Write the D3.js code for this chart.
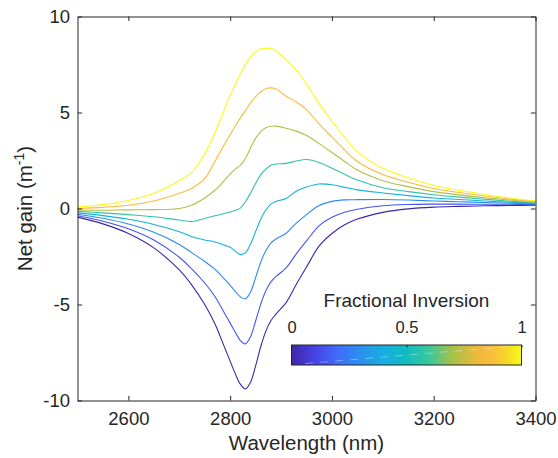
<!DOCTYPE html>
<html>
<head>
<meta charset="utf-8">
<script src="https://cdn.jsdelivr.net/npm/d3@7"></script>
<style>
  html, body { margin: 0; padding: 0; background: #fff; }
  svg { display: block; }
  text { font-family: "Liberation Sans", Arial, Helvetica, sans-serif; fill: #262626; }
</style>
</head>
<body>
<svg id="chart" width="558" height="458"></svg>
<script>
// ---------------- data ----------------
const wavelength = [2500, 2550, 2600, 2650, 2700, 2725, 2750, 2770, 2790, 2800, 2810, 2820, 2830, 2840, 2850, 2860, 2870, 2880, 2890, 2910, 2930, 2950, 2975, 3000, 3025, 3050, 3100, 3150, 3200, 3250, 3300, 3350, 3400];

const fractions = [0, 0.143, 0.286, 0.429, 0.571, 0.714, 0.857, 1];

const gainF0 = [-0.45, -0.8, -1.3, -2.05, -3.2, -4.0, -5.0, -6.0, -7.3, -7.95, -8.6, -9.15, -9.4, -9.05, -8.2, -7.2, -6.4, -5.85, -5.5, -4.9, -3.95, -3.05, -1.95, -1.3, -0.85, -0.55, -0.2, -0.02, 0.07, 0.11, 0.14, 0.16, 0.17];
const gainF1 = [-0.38, -0.66, -1.05, -1.64, -2.54, -3.16, -3.88, -4.58, -5.51, -5.97, -6.45, -6.88, -7.05, -6.68, -5.86, -4.99, -4.29, -3.82, -3.54, -3.09, -2.36, -1.69, -0.89, -0.46, -0.2, -0.04, 0.14, 0.21, 0.23, 0.23, 0.22, 0.22, 0.2];
const gainF2 = [-0.30, -0.51, -0.81, -1.24, -1.87, -2.31, -2.76, -3.16, -3.71, -4.0, -4.32, -4.6, -4.7, -4.35, -3.6, -2.8, -2.2, -1.8, -1.59, -1.29, -0.76, -0.32, 0.16, 0.37, 0.45, 0.46, 0.47, 0.44, 0.39, 0.35, 0.31, 0.27, 0.24];
const gainF3 = [-0.23, -0.37, -0.56, -0.83, -1.21, -1.47, -1.64, -1.74, -1.92, -2.02, -2.22, -2.4, -2.3, -1.85, -1.2, -0.56, -0.08, 0.23, 0.37, 0.52, 0.9, 1.12, 1.28, 1.24, 1.1, 0.97, 0.81, 0.67, 0.55, 0.47, 0.39, 0.33, 0.27];
const gainF4 = [-0.15, -0.23, -0.32, -0.43, -0.6, -0.68, -0.52, -0.38, -0.25, -0.18, -0.1, 0.02, 0.35, 0.8, 1.3, 1.75, 2.05, 2.25, 2.32, 2.35, 2.47, 2.55, 2.4, 2.1, 1.78, 1.48, 1.08, 0.88, 0.72, 0.59, 0.48, 0.38, 0.3];
const gainF5 = [-0.08, -0.09, -0.07, -0.06, 0.0, 0.18, 0.55, 0.95, 1.5, 1.8, 2.05, 2.25, 2.6, 3.15, 3.65, 4.0, 4.2, 4.28, 4.29, 4.18, 4.03, 3.8, 3.38, 2.92, 2.45, 2.0, 1.45, 1.14, 0.88, 0.71, 0.56, 0.44, 0.33];
const gainF6 = [0.0, 0.06, 0.17, 0.39, 0.79, 1.06, 1.55, 2.45, 3.4, 3.85, 4.3, 4.72, 5.1, 5.5, 5.82, 6.08, 6.24, 6.28, 6.22, 5.85, 5.55, 5.15, 4.4, 3.72, 3.05, 2.45, 1.77, 1.37, 1.04, 0.83, 0.65, 0.49, 0.37];
const gainF7 = [0.07, 0.2, 0.42, 0.8, 1.45, 1.9, 2.85, 3.95, 5.25, 5.9, 6.45, 7.0, 7.5, 7.9, 8.15, 8.3, 8.35, 8.33, 8.2, 7.75, 7.2, 6.49, 5.45, 4.55, 3.7, 2.95, 2.1, 1.6, 1.2, 0.95, 0.73, 0.55, 0.4];

const xTicks = [2600, 2800, 3000, 3200, 3400];
const yTicks = [-10, -5, 0, 5, 10];
const cbTicks = [0, 0.5, 1];

// parula-like colormap stops
const cmapPos = [0, 0.1, 0.2, 0.3, 0.4, 0.5, 0.6, 0.7, 0.8, 0.86, 0.93, 1];
const cmapCol = ["#3e26a8", "#4742e6", "#3f6cfb", "#2a90ee", "#17aee0", "#12bcc0", "#3cc79a", "#a8c04a", "#e9b93d", "#fcba3d", "#f5d52a", "#f9fb15"];

const series = [gainF0, gainF1, gainF2, gainF3, gainF4, gainF5, gainF6, gainF7];

// ---------------- layout ----------------
const svg = d3.select("#chart");
const W = 558, H = 458;
const plot = { left: 77.5, right: 535.5, top: 16.5, bottom: 400.5 };
const axisColor = "#262626";

svg.append("rect").attr("width", W).attr("height", H).attr("fill", "#fff");

const x = d3.scaleLinear().domain([2500, 3400]).range([plot.left, plot.right]);
const y = d3.scaleLinear().domain([-10, 10]).range([plot.bottom, plot.top]);
const cmap = d3.scaleLinear().domain(cmapPos).range(cmapCol).interpolate(d3.interpolateRgb);
const fmt = d => String(d);

// curves
const line = d3.line()
  .x((d, i) => x(wavelength[i]))
  .y(d => y(d))
  .curve(d3.curveCatmullRom.alpha(0.5));

const defs = svg.append("defs");
defs.append("clipPath").attr("id", "plotclip")
  .append("rect").attr("x", plot.left).attr("y", plot.top)
  .attr("width", plot.right - plot.left).attr("height", plot.bottom - plot.top);

svg.append("g").attr("clip-path", "url(#plotclip)")
  .selectAll("path").data(series).join("path")
  .attr("d", d => line(d))
  .attr("fill", "none")
  .attr("stroke", (d, i) => cmap(fractions[i]))
  .attr("stroke-width", 1.1);

// axes
const tickLen = 4.6;
const fontSize = 18.5;

function styleAxis(g) {
  g.selectAll(".domain").attr("stroke", axisColor).attr("stroke-width", 1);
  g.selectAll(".tick line").attr("stroke", axisColor).attr("stroke-width", 1);
  g.selectAll(".tick text").attr("fill", axisColor).style("font-size", fontSize + "px")
    .style("font-family", '"Liberation Sans", Arial, sans-serif');
}

const xAxisB = svg.append("g").attr("transform", `translate(0,${plot.bottom})`)
  .call(d3.axisBottom(x).tickValues(xTicks).tickSizeInner(-tickLen).tickSizeOuter(0).tickPadding(11).tickFormat(fmt));
styleAxis(xAxisB);

const xAxisT = svg.append("g").attr("transform", `translate(0,${plot.top})`)
  .call(d3.axisTop(x).tickValues(xTicks).tickSizeInner(-tickLen).tickSizeOuter(0).tickFormat(""));
styleAxis(xAxisT);

const yAxisL = svg.append("g").attr("transform", `translate(${plot.left},0)`)
  .call(d3.axisLeft(y).tickValues(yTicks).tickSizeInner(-tickLen).tickSizeOuter(0).tickPadding(7.5).tickFormat(fmt));
styleAxis(yAxisL);

const yAxisR = svg.append("g").attr("transform", `translate(${plot.right},0)`)
  .call(d3.axisRight(y).tickValues(yTicks).tickSizeInner(-tickLen).tickSizeOuter(0).tickFormat(""));
styleAxis(yAxisR);

// axis labels
svg.append("text")
  .attr("x", (plot.left + plot.right) / 2).attr("y", 450)
  .attr("text-anchor", "middle")
  .style("font-size", "20.5px")
  .text("Wavelength (nm)");

const yl = svg.append("text")
  .attr("transform", `translate(31.5,${(plot.top + plot.bottom) / 2}) rotate(-90)`)
  .attr("text-anchor", "middle")
  .style("font-size", "20.5px");
yl.append("tspan").text("Net gain (m");
yl.append("tspan").attr("dy", -8).style("font-size", "14px").text("-1");
yl.append("tspan").attr("dy", 8).text(")");

// ---------------- colorbar ----------------
const cb = { left: 291.5, right: 521.5, top: 345, bottom: 365 };
const cbx = d3.scaleLinear().domain([0, 1]).range([cb.left, cb.right]);

const grad = defs.append("linearGradient").attr("id", "parula")
  .attr("x1", "0%").attr("x2", "100%").attr("y1", "0%").attr("y2", "0%");
grad.selectAll("stop").data(cmapPos).join("stop")
  .attr("offset", d => (d * 100) + "%")
  .attr("stop-color", (d, i) => cmapCol[i]);

svg.append("rect")
  .attr("x", cb.left).attr("y", cb.top)
  .attr("width", cb.right - cb.left).attr("height", cb.bottom - cb.top)
  .attr("fill", "url(#parula)");

// faint rendering streak seen in the reference colorbar
svg.append("line")
  .attr("x1", cbx(0.06)).attr("y1", cb.bottom - 1.5)
  .attr("x2", cbx(0.95)).attr("y2", cb.top + 1.5)
  .attr("stroke", "#ffffff").attr("stroke-opacity", 0.45)
  .attr("stroke-width", 0.8).attr("stroke-dasharray", "8,7");

svg.append("rect")
  .attr("x", cb.left).attr("y", cb.top)
  .attr("width", cb.right - cb.left).attr("height", cb.bottom - cb.top)
  .attr("fill", "none").attr("stroke", axisColor).attr("stroke-width", 1);

const cbAxis = svg.append("g").attr("transform", `translate(0,${cb.top})`)
  .call(d3.axisTop(cbx).tickValues(cbTicks).tickSizeInner(-2.5).tickSizeOuter(0).tickPadding(12.5).tickFormat(fmt));
cbAxis.select(".domain").remove();
cbAxis.selectAll(".tick line").attr("stroke", axisColor);
cbAxis.selectAll(".tick text").attr("fill", axisColor).style("font-size", "16.5px")
  .style("font-family", '"Liberation Sans", Arial, sans-serif');

svg.append("text")
  .attr("x", (cb.left + cb.right) / 2).attr("y", 307)
  .attr("text-anchor", "middle")
  .style("font-size", "19px")
  .text("Fractional Inversion");
</script>
</body>
</html>
